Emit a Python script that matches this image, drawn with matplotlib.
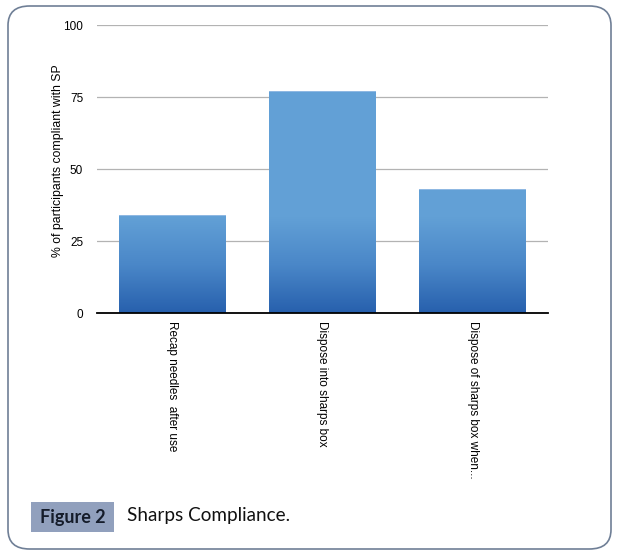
import numpy as np
import matplotlib.pyplot as plt
from matplotlib.patches import FancyBboxPatch, Rectangle
from matplotlib.colors import LinearSegmentedColormap

CATEGORIES = ["Recap needles  after use", "Dispose into sharps box", "Dispose of sharps box when..."]
VALUES = [34, 77, 43]
Y_TICKS = [0, 25, 50, 75, 100]

plt.rcParams['font.family'] = ['Liberation Sans', 'DejaVu Sans']

fig = plt.figure(figsize=(6.18, 5.53), dpi=100)
W, H = 618, 553

# rounded frame around the figure
frame = FancyBboxPatch((8 / W, 4 / H), 603 / W, 543 / H,
                       boxstyle="round,pad=0,rounding_size=0.035",
                       transform=fig.transFigure, fill=False,
                       edgecolor="#6f7f96", linewidth=1.2)
fig.patches.append(frame)

ax = fig.add_axes([97 / W, 1 - 313 / H, 451 / W, 288 / H])
x = np.arange(len(CATEGORIES))
bars = ax.bar(x, VALUES, width=0.71, color="none", zorder=2)

# vertical gradient, dark at the bottom, flat light colour higher up
cmap = LinearSegmentedColormap.from_list("g", ["#2760ad", "#4a87c8", "#62a0d6", "#63a1d7"])
grad = np.linspace(0, 1, 256).reshape(-1, 1)
for b in bars:
    im = ax.imshow(grad, cmap=cmap, origin="lower", aspect="auto",
                   extent=[-0.5, 2.5, 0, 50], zorder=2)
    im.set_clip_path(b)
    bb = ax.imshow(np.full((1, 1, 3), [0.388, 0.631, 0.843]), aspect="auto",
                   extent=[-0.5, 2.5, 50, 100], zorder=2)
    bb.set_clip_path(b)
    top = b.get_height()
    ax.add_patch(Rectangle((b.get_x(), top - 0.35), b.get_width(), 0.35,
                           color="#8fb8e2", zorder=3, linewidth=0))

ax.set_xlim(-0.5, 2.5)
ax.set_ylim(0, 100)
ax.set_yticks(Y_TICKS)
ax.set_yticklabels([str(t) for t in Y_TICKS], fontsize=8.5)
ax.yaxis.grid(True, color="#b3b3b3", linewidth=0.9, zorder=0)
ax.set_axisbelow(True)
for s in ["top", "right", "left"]:
    ax.spines[s].set_visible(False)
ax.spines["bottom"].set_linewidth(1.3)
ax.spines["bottom"].set_zorder(5)
ax.tick_params(axis="both", length=0, pad=10)
ax.tick_params(axis="x", pad=6)
ax.set_xticks(x)
ax.set_xticklabels(CATEGORIES, rotation=-90, fontsize=8.5, va="top", ha="center")
ax.set_ylabel("% of participants compliant with SP", fontsize=8.8)
ax.yaxis.set_label_coords(-0.074, 0.53)

# caption
fig.patches.append(Rectangle((31 / W, 1 - 532 / H), 83 / W, 30 / H,
                             transform=fig.transFigure, facecolor="#91a0bd",
                             edgecolor="none"))
fig.text(72.5 / W, 1 - 517 / H, "Figure 2", fontsize=13, fontweight="bold",
         color="#151c2a", va="center", ha="center", family=["Lato", "DejaVu Sans"])
fig.text(127 / W, 1 - 516 / H, "Sharps Compliance.", fontsize=13.6, color="#111111",
         va="center", ha="left", family=["Lato", "DejaVu Sans"])

fig.savefig("out.png", dpi=100)
